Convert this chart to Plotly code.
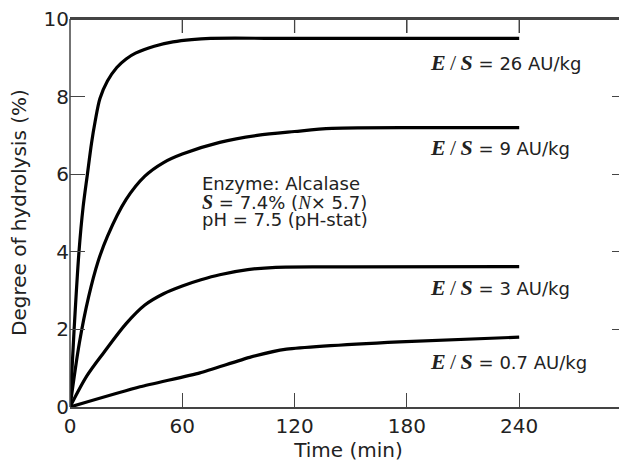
import plotly.graph_objects as go

# Time (min) and degree of hydrolysis (%) for each enzyme/substrate ratio
t_26 = [0, 2.2, 4.8, 7, 9.3, 11.5, 13.4, 16, 20, 25, 30, 35, 45, 55, 65, 75, 120, 180, 240]
dh_26 = [0, 2.0, 4.0, 5.15, 6.0, 6.8, 7.35, 7.95, 8.4, 8.75, 8.97, 9.12, 9.3, 9.41, 9.47, 9.5, 9.5, 9.5, 9.5]

t_9 = [0, 5, 10, 15, 20, 30, 40, 50, 60, 80, 100, 120, 140, 190, 240]
dh_9 = [0, 1.65, 2.85, 3.75, 4.4, 5.35, 5.95, 6.3, 6.52, 6.82, 7.0, 7.1, 7.18, 7.2, 7.2]

t_3 = [0, 9, 18, 30, 40, 50, 60, 70, 80, 95, 110, 150, 240]
dh_3 = [0, 0.8, 1.4, 2.15, 2.63, 2.92, 3.12, 3.28, 3.41, 3.54, 3.6, 3.61, 3.62]

t_07 = [0, 37.4, 69.4, 96, 115.7, 176, 240]
dh_07 = [0, 0.52, 0.88, 1.28, 1.49, 1.68, 1.80]

series = [(t_26, dh_26, 0.9), (t_9, dh_9, 0.9), (t_3, dh_3, 0.9), (t_07, dh_07, 0.5)]

ratio_labels = ["26", "9", "3", "0.7"]
label_y = [8.89, 6.70, 3.07, 1.16]
label_x = 191.5

info_y = [5.77, 5.29, 4.82]
info_x = 69.4

x_ticks = [0, 60, 120, 180, 240]
y_ticks = [0, 2, 4, 6, 8, 10]

SANS = "DejaVu Sans"
SERIF = "Liberation Serif"
TXT = "#222222"
AX = "#444444"
TS = "\u2009"

fig = go.Figure()
for tx, dy, sm in series:
    fig.add_trace(go.Scatter(x=tx, y=dy, mode="lines",
                             line=dict(color="black", width=3.2, shape="spline", smoothing=sm),
                             showlegend=False, hoverinfo="skip"))

es = (f"<span style='font-family:{SERIF};font-size:22px'><b><i>E</i></b>{TS}/{TS}<b><i>S</i></b></span>")
for lab, yy in zip(ratio_labels, label_y):
    fig.add_annotation(x=label_x, y=yy, xref="x", yref="y", xanchor="left", yanchor="middle",
                       showarrow=False, text=f"{es} = {lab} AU/kg",
                       font=dict(family=SANS, size=18, color=TXT))

info_lines = [
    "Enzyme: Alcalase",
    f"<span style='font-family:{SERIF};font-size:20px'><i><b>S</b></i></span> = 7.4% ("
    f"<span style='font-family:{SERIF};font-size:19px'><i>N</i></span>× 5.7)",
    "pH = 7.5 (pH-stat)",
]
for ln, yy in zip(info_lines, info_y):
    fig.add_annotation(x=info_x, y=yy, xref="x", yref="y", xanchor="left", yanchor="middle",
                       showarrow=False, text=ln, font=dict(family=SANS, size=18, color=TXT))

# y-axis title
fig.add_annotation(x=-51 / 557, y=0.5, xref="paper", yref="paper", xanchor="center", yanchor="middle",
                   showarrow=False, textangle=-90, text="Degree of hydrolysis (%)",
                   font=dict(family=SANS, size=20, color=TXT))

# left axis line and top border line
fig.add_shape(type="line", xref="paper", yref="y", x0=0, x1=0, y0=0, y1=10,
              line=dict(color=AX, width=1.5))
fig.add_shape(type="line", xref="paper", yref="y", x0=0, x1=1, y0=10, y1=10,
              line=dict(color=AX, width=2))
# inward ticks along the top border, at the x tick values
for v in x_ticks[1:]:
    fig.add_shape(type="line", xref="x", x0=v, x1=v, yref="y", y0=10, y1=9.64,
                  line=dict(color=AX, width=1.3))

fig.update_layout(
    xaxis=dict(range=[0, 297.6], tickvals=x_ticks, ticktext=[str(v) for v in x_ticks],
               ticks="inside", ticklen=14, tickwidth=1.3, tickcolor=AX,
               showline=True, linecolor=AX, linewidth=2, mirror="ticks",
               showgrid=False, zeroline=False, ticklabeloverflow="allow",
               tickfont=dict(family=SANS, size=20, color=TXT),
               title=dict(text="Time (min)", font=dict(family=SANS, size=20, color=TXT), standoff=2)),
    yaxis=dict(range=[0, 10], tickvals=y_ticks, ticktext=[str(v) for v in y_ticks],
               ticks="inside", ticklen=15, tickwidth=1.3, tickcolor=AX,
               showline=False, mirror="ticks",
               showgrid=False, zeroline=False, ticklabeloverflow="allow",
               tickfont=dict(family=SANS, size=20, color=TXT)),
    width=619, height=456, margin=dict(l=62, r=0, t=11, b=57),
    plot_bgcolor="white", paper_bgcolor="white",
)

fig.write_html("out.html")
